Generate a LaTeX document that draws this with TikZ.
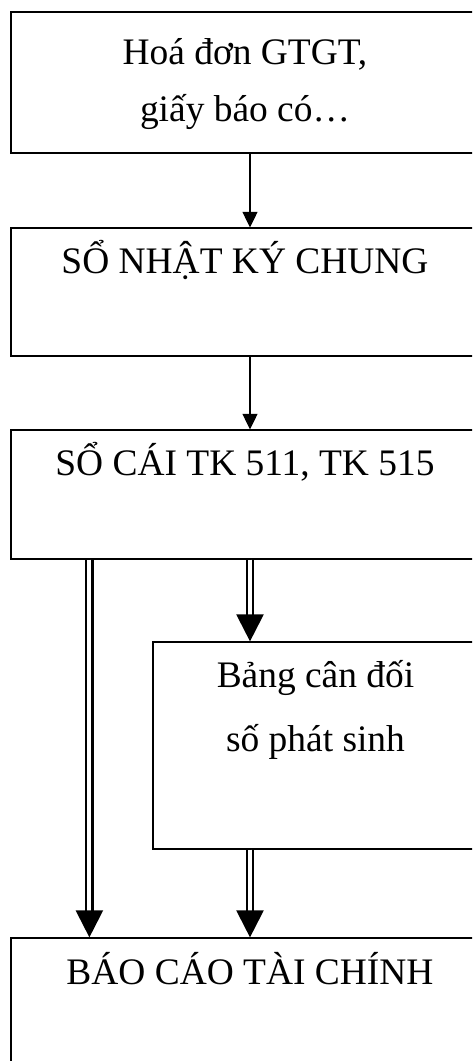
\documentclass[tikz,border=0pt]{standalone}
\usepackage{fontspec}
\setmainfont{Liberation Serif}
\usetikzlibrary{arrows.meta, calc}
\tikzset{
	khung/.style={draw, rectangle, inner sep=0, line width=0.7pt, anchor=base, minimum width=9.36cm},
	muiten/.style={draw, line width=0.7pt, -{Triangle[width=0.3cm, length=0.31cm]}},
	muitenkep/.style={draw, double, line width=1.3pt, double distance=2.2pt, -{Triangle[width=0.54cm, length=0.54cm]}}
}

\begin{document}
\begin{tikzpicture}[font=\fontsize{21.3}{25.4}\selectfont]
\useasboundingbox (0,0) rectangle (9.44,-21.22);
\clip (0,0) rectangle (9.44,-21.22);
{
\node[khung, text height=1.06cm, text depth=1.76cm] (hoadon) at (4.9,-1.30) {\begin{tabular}[t]{c}Hoá đơn GTGT,\\[7pt] giấy báo có…\end{tabular}};
\node[khung, text height=0.92cm, text depth=1.64cm] (nhatky) at (4.9,-5.48) {SỔ NHẬT KÝ CHUNG};
\node[khung, text height=0.90cm, text depth=1.68cm] (socai) at (4.9,-9.50) {SỔ CÁI TK 511, TK 515};
\node[khung, minimum width=6.50cm, text height=0.90cm, text depth=3.24cm] (bangcd) at (6.31,-13.74) {\begin{tabular}[t]{c}Bảng cân đối\\[11.5pt] số phát sinh\end{tabular}};
\node[khung, minimum width=9.56cm, text height=0.92cm, text depth=2.40cm] (baocao) at (5,-19.68) {BÁO CÁO TÀI CHÍNH};
}
\coordinate (truc) at (5,0);
\coordinate[xshift=1.58cm] (trai) at (socai.south west);

\path[muiten] (hoadon.south -| truc) -- (nhatky.north -| truc);
\path[muiten] (nhatky.south -| truc) -- (socai.north -| truc);

\path[muitenkep] (socai.south -| truc) -- (bangcd.north -| truc);
\path[muitenkep] (bangcd.south -| truc) -- (baocao.north -| truc);
\path[muitenkep] (trai) -- (trai |- baocao.north);
\end{tikzpicture}
\end{document}
